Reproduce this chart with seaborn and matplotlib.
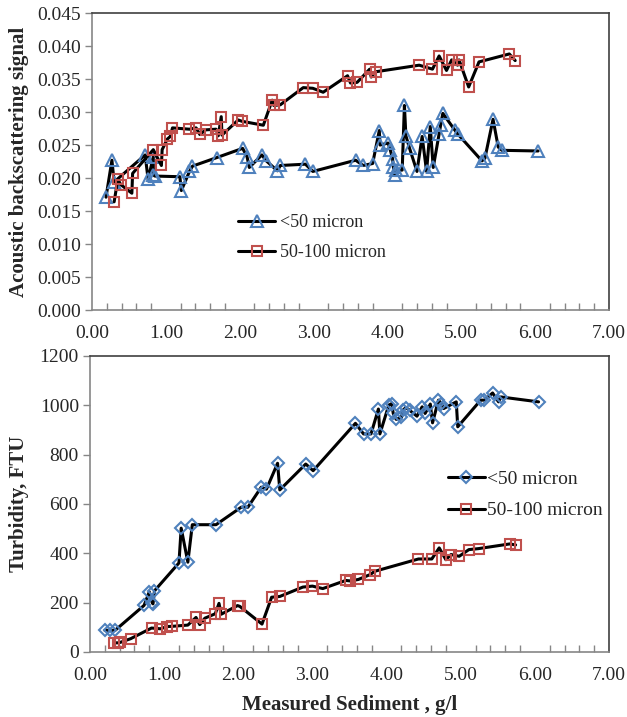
import matplotlib
matplotlib.use("Agg")
import matplotlib.pyplot as plt
from matplotlib.ticker import MultipleLocator, FormatStrFormatter
import seaborn as sns
import pandas as pd

# Acoustic backscattering (top panel)
sed_fine_top = [0.19, 0.27, 0.30, 0.72, 0.76, 0.83, 0.83, 0.85, 1.19, 1.21, 1.32, 1.36,
                1.69, 2.04, 2.10, 2.13, 2.30, 2.36, 2.51, 2.55, 2.89, 2.99, 3.57, 3.67,
                3.80, 3.89, 3.90, 4.01, 4.04, 4.07, 4.08, 4.10, 4.12, 4.20, 4.23, 4.25,
                4.30, 4.40, 4.47, 4.53, 4.58, 4.62, 4.70, 4.72, 4.75, 4.91, 4.95, 5.28,
                5.32, 5.43, 5.50, 5.55, 6.04]
abs_fine = [0.0171, 0.0227, 0.0194, 0.0235, 0.0198, 0.0232, 0.0205, 0.0203, 0.0202, 0.0181,
            0.0210, 0.0218, 0.0231, 0.0245, 0.0232, 0.0216, 0.0235, 0.0226, 0.0211, 0.0219,
            0.0221, 0.0210, 0.0227, 0.0219, 0.0222, 0.0272, 0.0250, 0.0253, 0.0242, 0.0229,
            0.0217, 0.0205, 0.0212, 0.0212, 0.0310, 0.0264, 0.0245, 0.0210, 0.0263, 0.0210,
            0.0278, 0.0216, 0.0267, 0.0280, 0.0298, 0.0273, 0.0267, 0.0226, 0.0230, 0.0289,
            0.0247, 0.0242, 0.0241]

sed_coarse_top = [0.30, 0.35, 0.39, 0.54, 0.55, 0.83, 0.94, 0.95, 1.02, 1.06, 1.09, 1.32,
                  1.41, 1.46, 1.54, 1.68, 1.71, 1.75, 1.76, 1.98, 2.03, 2.32, 2.44, 2.46,
                  2.55, 2.86, 2.99, 3.13, 3.46, 3.50, 3.59, 3.76, 3.78, 3.84, 4.43, 4.61,
                  4.70, 4.80, 4.87, 4.95, 4.97, 5.10, 5.24, 5.65, 5.73]
abs_coarse = [0.0164, 0.0198, 0.0190, 0.0177, 0.0207, 0.0243, 0.0219, 0.0243, 0.0259, 0.0263,
              0.0276, 0.0274, 0.0276, 0.0266, 0.0273, 0.0274, 0.0264, 0.0293, 0.0265, 0.0288,
              0.0286, 0.0280, 0.0318, 0.0310, 0.0311, 0.0337, 0.0336, 0.0330, 0.0355, 0.0344,
              0.0345, 0.0365, 0.0353, 0.0361, 0.0371, 0.0365, 0.0385, 0.0363, 0.0379, 0.0371,
              0.0379, 0.0338, 0.0376, 0.0388, 0.0378]

# Turbidity (bottom panel)
sed_fine_bot = [0.20, 0.27, 0.34, 0.73, 0.80, 0.84, 0.85, 0.87, 1.20, 1.23, 1.32, 1.38,
                1.70, 2.04, 2.13, 2.31, 2.38, 2.53, 2.56, 2.91, 3.01, 3.58, 3.69, 3.79,
                3.89, 3.91, 4.03, 4.07, 4.09, 4.13, 4.20, 4.22, 4.26, 4.31, 4.41, 4.48,
                4.52, 4.59, 4.62, 4.70, 4.74, 4.77, 4.94, 4.96, 5.27, 5.32, 5.43, 5.51,
                5.54, 6.05]
turb_fine = [88, 88, 88, 189, 244, 199, 195, 248, 361, 502, 364, 516,
             516, 587, 587, 668, 660, 765, 657, 762, 735, 927, 884, 884,
             985, 884, 1001, 1007, 967, 943, 951, 980, 991, 980, 956, 994,
             967, 1005, 929, 1021, 1007, 987, 1014, 913, 1021, 1021, 1050, 1014,
             1034, 1014]

sed_coarse_bot = [0.32, 0.38, 0.41, 0.55, 0.83, 0.95, 1.04, 1.11, 1.32, 1.43, 1.48, 1.55,
                  1.69, 1.74, 1.77, 1.99, 2.02, 2.32, 2.45, 2.56, 2.87, 3.00, 3.14, 3.45,
                  3.51, 3.62, 3.78, 3.84, 4.43, 4.61, 4.71, 4.80, 4.87, 4.98, 5.11, 5.24,
                  5.66, 5.74]
turb_coarse = [37, 37, 39, 54, 97, 94, 103, 104, 109, 140, 111, 137,
               155, 197, 153, 188, 185, 113, 222, 225, 263, 267, 257, 290,
               288, 294, 314, 327, 377, 377, 422, 374, 395, 388, 415, 419,
               438, 434]

blue = '#4f81bd'
red = '#c0504d'

sns.set_style("white")
plt.rcParams['font.family'] = ['Liberation Serif', 'DejaVu Serif']

fig = plt.figure(figsize=(6.27, 7.17), dpi=100)
ax1 = fig.add_axes([0.1467, 0.5676, 0.8246, 0.4142])
ax2 = fig.add_axes([0.1435, 0.0907, 0.8278, 0.4128])

top_fine = pd.DataFrame({'sed': sed_fine_top, 'val': abs_fine})
top_coarse = pd.DataFrame({'sed': sed_coarse_top, 'val': abs_coarse})
bot_fine = pd.DataFrame({'sed': sed_fine_bot, 'val': turb_fine})
bot_coarse = pd.DataFrame({'sed': sed_coarse_bot, 'val': turb_coarse})

line_kw = dict(x='sed', y='val', sort=False, estimator=None, color='black',
               linewidth=2.2, markerfacecolor='none', markeredgewidth=1.5)

sns.lineplot(data=top_fine, ax=ax1, marker='^', markeredgecolor=blue, markersize=8.5,
             label='<50 micron', **line_kw)
sns.lineplot(data=top_coarse, ax=ax1, marker='s', markeredgecolor=red, markersize=6.5,
             label='50-100 micron', **line_kw)

sns.lineplot(data=bot_fine, ax=ax2, marker='D', markeredgecolor=blue, markersize=6.5,
             label='<50 micron', **line_kw)
sns.lineplot(data=bot_coarse, ax=ax2, marker='s', markeredgecolor=red, markersize=7,
             label='50-100 micron', **line_kw)

for ax in (ax1, ax2):
    ax.set_xlim(0, 7)
    ax.xaxis.set_major_locator(MultipleLocator(1))
    ax.xaxis.set_minor_locator(MultipleLocator(0.2))
    ax.xaxis.set_major_formatter(FormatStrFormatter('%.2f'))
    ax.tick_params(axis='x', which='major', direction='inout', length=9, width=1,
                   color='#868686', labelsize=14, pad=6)
    ax.tick_params(axis='x', which='minor', direction='in', length=5, width=1,
                   color='#868686', bottom=True)
    ax.tick_params(axis='y', which='major', direction='out', length=5, width=1,
                   color='#868686', labelsize=14, left=True, pad=3)
    for side in ('left', 'bottom'):
        ax.spines[side].set_color('#868686')
        ax.spines[side].set_linewidth(1.2)
    for side in ('top', 'right'):
        ax.spines[side].set_color('#404040')
        ax.spines[side].set_linewidth(1.2)
    ax.set_xlabel('')

ax1.set_ylim(0, 0.045)
ax1.yaxis.set_major_locator(MultipleLocator(0.005))
ax1.yaxis.set_major_formatter(FormatStrFormatter('%.3f'))
ax1.set_ylabel('Acoustic backscattering signal', fontsize=15, fontweight='bold', labelpad=6)

ax2.set_ylim(0, 1200)
ax2.yaxis.set_major_locator(MultipleLocator(200))
ax2.set_ylabel('Turbidity, FTU', fontsize=15, fontweight='bold', labelpad=8)
ax2.set_xlabel('Measured Sediment , g/l', fontsize=15, fontweight='bold', labelpad=8)

ax1.legend(loc='upper left', bbox_to_anchor=(0.269, 0.347), frameon=False, fontsize=13,
           handlelength=2.05, handletextpad=0.25, labelspacing=0.72, borderaxespad=0)
ax2.legend(loc='upper left', bbox_to_anchor=(0.674, 0.639), frameon=False, fontsize=14,
           handlelength=1.9, handletextpad=0.15, labelspacing=0.7, borderaxespad=0)

fig.savefig('out.png', dpi=100)
